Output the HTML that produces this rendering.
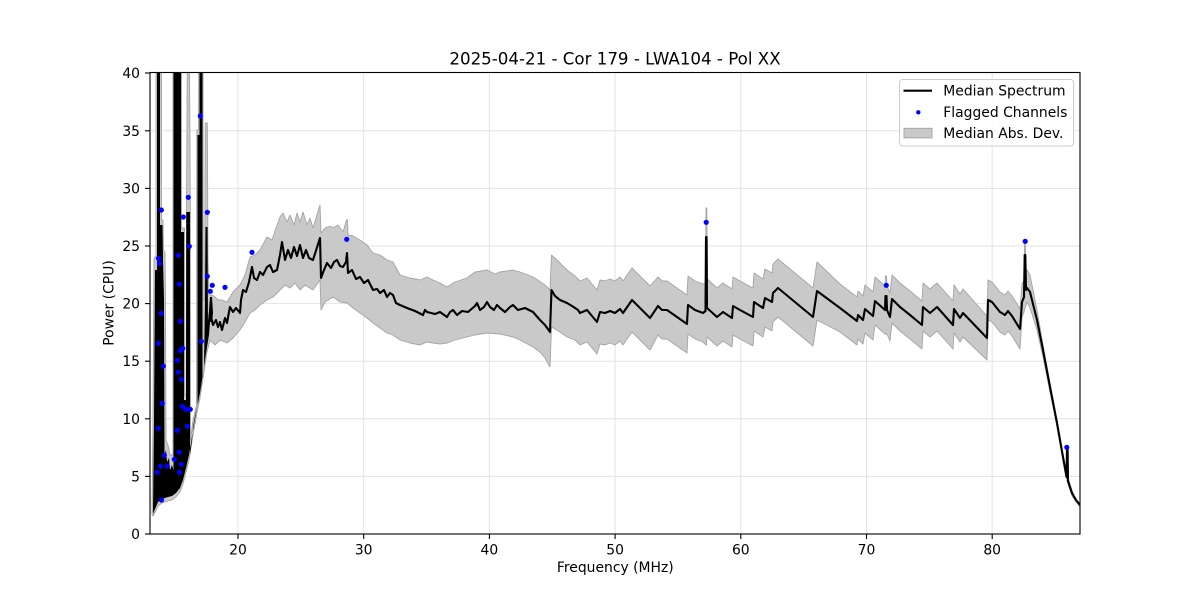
<!DOCTYPE html>
<html>
<head>
<meta charset="utf-8">
<style>
html,body{margin:0;padding:0;background:#fff;}
svg{display:block;}
text{font-family:"DejaVu Sans","Liberation Sans",sans-serif;fill:#000;}
</style>
</head>
<body>
<svg width="1200" height="600" viewBox="0 0 1200 600" xmlns="http://www.w3.org/2000/svg">
<rect x="0" y="0" width="1200" height="600" fill="#fff"/>
<defs>
<clipPath id="pa"><rect x="150" y="72.5" width="930" height="461.5"/></clipPath>
</defs>

<!-- grid -->
<g stroke="#e3e3e3" stroke-width="1">
<line x1="238" y1="72" x2="238" y2="534"/>
<line x1="363.7" y1="72" x2="363.7" y2="534"/>
<line x1="489.4" y1="72" x2="489.4" y2="534"/>
<line x1="615.1" y1="72" x2="615.1" y2="534"/>
<line x1="740.8" y1="72" x2="740.8" y2="534"/>
<line x1="866.5" y1="72" x2="866.5" y2="534"/>
<line x1="992.2" y1="72" x2="992.2" y2="534"/>
<line x1="150" y1="476.4" x2="1080" y2="476.4"/>
<line x1="150" y1="418.8" x2="1080" y2="418.8"/>
<line x1="150" y1="361.2" x2="1080" y2="361.2"/>
<line x1="150" y1="303.6" x2="1080" y2="303.6"/>
<line x1="150" y1="246" x2="1080" y2="246"/>
<line x1="150" y1="188.4" x2="1080" y2="188.4"/>
<line x1="150" y1="130.8" x2="1080" y2="130.8"/>
</g>

<g clip-path="url(#pa)">
<!-- MAD band -->
<polygon fill="#c9c9c9" stroke="#a4a4a4" stroke-width="0.9" stroke-linejoin="round" points="
152,514 153,420 154,258 156,256 156,60 161.5,60 161.5,220 163,220 163.5,250 165,253 165.5,300 166,440 168,445 170,455 173,455 173,60 181.5,60 181.5,228 184.5,228 184.5,395 186,395 186.5,205 187.3,60 189.5,60 190.3,210 190.5,440 193,420 196.5,405 196.8,130 198.5,130 198.8,60 203,60 203.2,300 204.5,300 205.3,123 207.3,123 208,260 209,295 212,295 215,297 218,300 222,300 227,302 233,292 240,285 245,275 250,257 255,255 260,250 267,237 272,240 277,225 280,217 283,213 287,222 290,215 294,225 297,213 300,222 303,212 307,225 310,218 313,228 320,205 321,233 325,228 330,226 333,228 338,225 343,232 346.5,220 347.5,220 348,235 353,236 360,240 367,245 373,253 380,255 387,260 393,262 400,275 410,278 420,280 427,277 433,280 440,283 447,287 455,282 467,278 475,272 487,270 495,274 500,272 513,270 520,272 533,277 545,285 550,290 551.5,255 560,263 567,270 575,276 580,281 587,278 592,284 597,290 600,280 605,281 610,279 615,281 620,277 623,281 632,268 650,286 658,277 662,281 667,281 687,295 688,276 695,281 703,284 705.5,283 706,208 706.8,208 707.3,279 717,288 723,283 732,289 733,277 740,281 753,288 754,273 763,279 765,269 772,273 773,264 778,259 813,288 817,262 840,284 857,297 858,291 863,296 865,285 873,292 875,277 885,286 885.5,276 886.5,276 887,286 890,293 892,275 900,283 910,291 922,301 923,283 930,289 937,283 953,301 954,285 960,294 963,289 987,316 988,280 992,282 1000,292 1005,295 1008,291 1012,296 1020,309 1022,284 1024,280 1024.7,240 1025.3,240 1026,272 1027,270 1030,275 1037,310 1043,345 1050,383 1057,420 1063,454 1067,474 1072,491 1076,499 1080,504
1080,507 1076,502 1072,496 1067,481 1063,461 1057,427 1050,392 1043,357 1037,330 1030,308 1027,302 1024,312 1022,318 1020,349 1012,336 1008,331 1005,335 1000,332 992,322 988,320 987,360 963,337 960,342 954,333 953,349 937,331 930,337 923,331 922,349 910,339 900,331 892,323 890,341 887,334 885,334 875,325 873,340 865,333 863,344 858,339 857,345 840,332 817,320 813,346 778,317 773,322 772,331 765,327 763,337 754,331 753,346 740,339 733,335 732,347 723,341 717,346 707,337 706.5,345 706,345 703,342 695,339 688,334 687,353 667,339 662,339 658,335 650,350 632,332 623,345 620,341 615,345 610,343 605,345 600,344 597,354 592,348 587,342 580,345 575,340 567,337 560,332 551.5,327 550,367 545,358 540,352 533,347 520,340 513,337 500,334 487,333 475,335 467,337 455,340 447,343 440,344 433,343 427,342 420,345 410,343 400,340 393,335 387,333 380,328 373,323 367,318 360,313 353,308 347,303 340,302 333,297 325,302 321,310 320,280 313,290 305,285 300,290 295,283 290,288 285,285 280,290 273,297 267,300 260,305 255,310 250,313 245,322 240,330 233,338 227,343 220,340 215,345 210,340 207,352 205,365 202,385 200,398 197,413 193,435 189,460 186,472 183,484 180,492 176,497 172,500 168,501 162,503 158,506 155,513 153,516"/>

<!-- dense spike region (black) -->
<polygon fill="#000" points="153,512 154,420 155,270 157,270 157,60 160,60 160,225 162.5,225 163,260 164,300 164.5,455 166,450 167,462 169,458 170,470 172,465 173.5,470 173.5,60 181,60 181,232 184,232 184,400 186,400 186.3,212 190,212 190,455 192,440 193,427 195,416 197.5,405 197.5,135 199.5,135 199.5,60 202.5,60 202.5,377 204,366 205,300 205.5,227 207.5,227 208,330 209,310 210,297 212,297 213,313 212,322 210,322 209,335 207,347 205,360 202,380 200,393 197,408 193,430 189,455 186,468 183,480 180,488 176,493 172,496 168,497 162,499 158,502 155,509 153,514"/>

<!-- median spectrum -->
<polyline fill="none" stroke="#000" stroke-width="2.1" stroke-linejoin="round" points="
208,330 210,312 213,325 216,320 218,327 220,322 222,330 225,318 227,323 229,312 230,307 233,312 236,308 240,313 241,300 243,290 246,292 249,282 252,267 254,278 257,280 260,272 263,275 267,267 270,265 273,272 277,270 280,255 282,242 285,260 288,250 291,258 294,247 297,256 300,245 303,258 306,250 309,258 313,260 320,238 321,278 324,270 327,263 331,268 334,262 337,260 340,266 343,267 346,262 347,253 348,273 352,270 356,279 360,277 364,283 368,280 373,290 377,289 380,293 384,290 387,297 390,293 393,295 396,303 400,305 407,308 415,311 423,315 425,310 427,312 435,314 440,312 447,317 450,312 453,310 457,315 462,311 468,312 475,306 477,303 480,310 484,307 487,302 490,307 494,310 497,305 500,308 505,312 510,307 513,305 518,310 525,308 533,312 540,320 545,325 550,332 551.5,290 555,296 560,300 567,303 572,306 578,310 580,313 587,310 592,316 597,322 600,312 605,313 610,311 615,313 620,309 623,313 632,300 650,318 658,306 662,310 667,310 687,324 688,305 695,310 703,313 705.5,311 706,237 706.6,237 707,308 717,317 723,312 732,318 733,306 740,310 753,317 754,302 763,308 765,298 772,302 773,293 778,288 813,317 817,291 840,308 857,321 858,315 863,320 865,309 873,316 875,301 885,310 885.5,296 886.5,296 887,310 890,317 892,299 900,307 910,315 922,325 923,307 930,313 937,307 953,325 954,309 960,318 963,313 987,338 988,300 992,302 1000,312 1005,315 1008,311 1012,316 1020,329 1022,302 1024,297 1024.7,255 1025.3,255 1026,290 1027,288 1030,292 1037,320 1043,350 1050,387 1057,423 1063,457 1066.5,477 1067,449 1067.6,449 1068,481 1072,493 1076,500 1080,505"/>

<!-- flagged channels -->
<g fill="#0000ff">
<circle cx="158.5" cy="258.3" r="2.6"/><circle cx="159.5" cy="263.3" r="2.6"/><circle cx="161.3" cy="210" r="2.6"/>
<circle cx="161.3" cy="313.3" r="2.6"/><circle cx="158.3" cy="343.3" r="2.6"/><circle cx="163.3" cy="366.2" r="2.6"/>
<circle cx="162.3" cy="403.3" r="2.6"/><circle cx="158.3" cy="428.3" r="2.6"/><circle cx="164.3" cy="455.3" r="2.6"/>
<circle cx="160.3" cy="466.3" r="2.6"/><circle cx="157.3" cy="472.3" r="2.6"/><circle cx="167.3" cy="466.3" r="2.6"/>
<circle cx="161.5" cy="500" r="2.6"/><circle cx="178.3" cy="255.3" r="2.6"/><circle cx="179.3" cy="284.3" r="2.6"/>
<circle cx="180.3" cy="321.3" r="2.6"/><circle cx="177.3" cy="360.3" r="2.6"/><circle cx="178.3" cy="372.2" r="2.6"/>
<circle cx="181.3" cy="379.3" r="2.6"/><circle cx="180.3" cy="350.7" r="2.6"/><circle cx="182.7" cy="348.3" r="2.6"/>
<circle cx="183.3" cy="217" r="2.6"/><circle cx="189.3" cy="246.3" r="2.6"/><circle cx="188.3" cy="197.3" r="2.6"/>
<circle cx="182.3" cy="406.3" r="2.6"/><circle cx="185.7" cy="409.3" r="2.6"/><circle cx="190.3" cy="409.3" r="2.6"/>
<circle cx="187.3" cy="426.3" r="2.6"/><circle cx="177.3" cy="430.3" r="2.6"/><circle cx="179.3" cy="452.3" r="2.6"/>
<circle cx="174.3" cy="459.3" r="2.6"/><circle cx="181.3" cy="464.3" r="2.6"/><circle cx="179.3" cy="472.3" r="2.6"/>
<circle cx="200.3" cy="116" r="2.6"/><circle cx="207.3" cy="212.3" r="2.6"/><circle cx="201.3" cy="341.3" r="2.6"/>
<circle cx="207.3" cy="276.3" r="2.6"/><circle cx="212.3" cy="285.3" r="2.6"/><circle cx="210.3" cy="291.3" r="2.6"/>
<circle cx="225" cy="287.3" r="2.6"/><circle cx="252" cy="252.3" r="2.6"/><circle cx="346.7" cy="239.3" r="2.6"/>
<circle cx="706.2" cy="222.3" r="2.6"/><circle cx="886.3" cy="285.3" r="2.6"/><circle cx="1025.2" cy="241.3" r="2.6"/>
<circle cx="1066.8" cy="447.3" r="2.6"/>
</g>
</g>

<!-- axes frame -->
<rect x="150" y="72.5" width="930" height="461.5" fill="none" stroke="#000" stroke-width="1.1"/>

<!-- ticks -->
<g stroke="#000" stroke-width="1.1">
<line x1="238" y1="534" x2="238" y2="539"/>
<line x1="363.7" y1="534" x2="363.7" y2="539"/>
<line x1="489.4" y1="534" x2="489.4" y2="539"/>
<line x1="615.1" y1="534" x2="615.1" y2="539"/>
<line x1="740.8" y1="534" x2="740.8" y2="539"/>
<line x1="866.5" y1="534" x2="866.5" y2="539"/>
<line x1="992.2" y1="534" x2="992.2" y2="539"/>
<line x1="145" y1="534" x2="150" y2="534"/>
<line x1="145" y1="476.4" x2="150" y2="476.4"/>
<line x1="145" y1="418.8" x2="150" y2="418.8"/>
<line x1="145" y1="361.2" x2="150" y2="361.2"/>
<line x1="145" y1="303.6" x2="150" y2="303.6"/>
<line x1="145" y1="246" x2="150" y2="246"/>
<line x1="145" y1="188.4" x2="150" y2="188.4"/>
<line x1="145" y1="130.8" x2="150" y2="130.8"/>
<line x1="145" y1="73" x2="150" y2="73"/>
</g>

<g font-size="13.9" text-anchor="middle">
<text x="238" y="554.3">20</text>
<text x="363.7" y="554.3">30</text>
<text x="489.4" y="554.3">40</text>
<text x="615.1" y="554.3">50</text>
<text x="740.8" y="554.3">60</text>
<text x="866.5" y="554.3">70</text>
<text x="992.2" y="554.3">80</text>
</g>
<g font-size="13.9" text-anchor="end">
<text x="140" y="539">0</text>
<text x="140" y="481.4">5</text>
<text x="140" y="423.8">10</text>
<text x="140" y="366.2">15</text>
<text x="140" y="308.6">20</text>
<text x="140" y="251">25</text>
<text x="140" y="193.4">30</text>
<text x="140" y="135.8">35</text>
<text x="140" y="78">40</text>
</g>

<text x="615.3" y="572" font-size="13.9" text-anchor="middle">Frequency (MHz)</text>
<text transform="translate(113.5,303) rotate(-90)" font-size="13.9" text-anchor="middle">Power (CPU)</text>
<text x="615" y="64.5" font-size="16.67" text-anchor="middle">2025-04-21 - Cor 179 - LWA104 - Pol XX</text>

<!-- legend -->
<rect x="899.5" y="79.5" width="174" height="66.5" rx="3" ry="3" fill="#fff" fill-opacity="0.8" stroke="#cccccc" stroke-width="1"/>
<line x1="903.5" y1="90.7" x2="932" y2="90.7" stroke="#000" stroke-width="2.1"/>
<text x="943.3" y="95.6" font-size="13.9">Median Spectrum</text>
<circle cx="918.3" cy="112.3" r="2.2" fill="#0000ff"/>
<text x="943.3" y="117.2" font-size="13.9">Flagged Channels</text>
<rect x="904" y="128.3" width="28" height="9.6" fill="#c9c9c9" stroke="#a4a4a4" stroke-width="0.9"/>
<text x="943.3" y="138" font-size="13.9">Median Abs. Dev.</text>
</svg>
</body>
</html>
